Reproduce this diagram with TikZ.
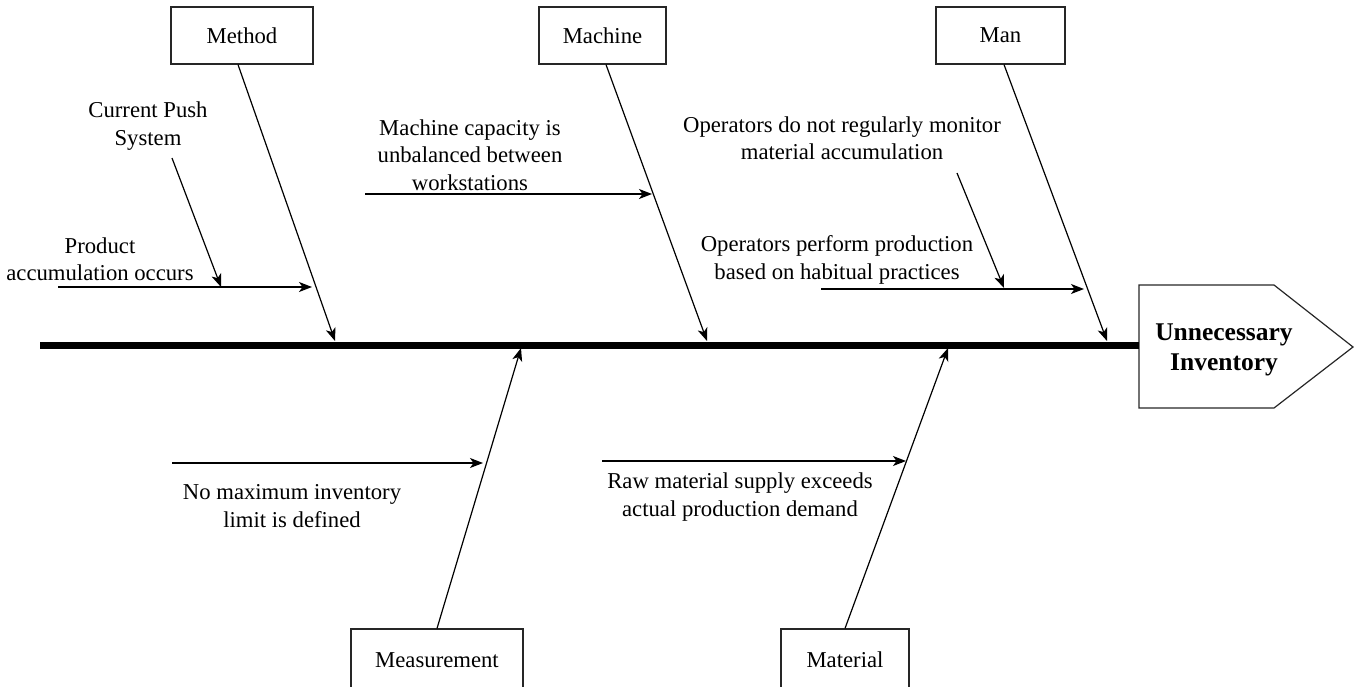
\documentclass[tikz,border=0pt]{standalone}
\usepackage{fontspec}
\setmainfont{Liberation Serif}
\usetikzlibrary{arrows.meta,calc}

\begin{document}
\begin{tikzpicture}[x=1pt,y=-1pt,
  catbox/.style={draw=black!85,line width=1.2pt,minimum height=57pt,inner sep=0pt,
                 font=\fontsize{22.7}{27.5}\selectfont},
  lbl/.style={align=center,inner sep=0pt,font=\fontsize{22.7}{27.5}\selectfont},
  bone/.style={line width=1.2pt,-{Stealth[length=13pt,width=10pt,inset=3.5pt]}},
  spine/.style={line width=7pt},
  effect/.style={draw=black!85,line width=1.2pt}]

\useasboundingbox (0,0) rectangle (1359,686);
\clip (0,0) rectangle (1359,686);

% category boxes
\node[catbox,minimum width=142pt] (method) at (242,35.5) {Method};
\node[catbox,minimum width=127pt] (machine) at (602.5,35.5) {Machine};
\node[catbox,minimum width=129pt] (man) at (1000.5,35.5) {Man};
\node[catbox,minimum width=172pt,minimum height=62pt] (measure) at (437,660) {Measurement};
\node[catbox,minimum width=128pt,minimum height=62pt] (material) at (845,660) {Material};

% effect head
\coordinate (hA) at (1139,285);
\coordinate (hB) at (1274,285);
\coordinate (hC) at (1353,347);
\coordinate (hD) at (1274,408);
\coordinate (hE) at (1139,408);
\draw[effect] (hA) -- (hB) -- (hC) -- (hD) -- (hE) -- cycle;
\node[align=center,inner sep=0pt,font=\fontsize{25.5}{29.5}\selectfont\bfseries] (effect) at (1224,350)
  {Unnecessary\\Inventory};

% spine
\coordinate (tail) at (40,345);
\coordinate (head) at (1139,345);
\draw[spine] (tail) -- (head);

% main bones
\coordinate (tMethod) at (335,341);
\coordinate (tMachine) at (707,341);
\coordinate (tMan) at (1107,341);
\coordinate (tMeasure) at (521,348);
\coordinate (tMaterial) at (948,348);
\draw[bone] ([xshift=-4pt]method.south) -- (tMethod);
\draw[bone] ([xshift=3.5pt]machine.south) -- (tMachine);
\draw[bone] ([xshift=3.5pt]man.south) -- (tMan);
\draw[bone] (measure.north) -- (tMeasure);
\draw[bone] (material.north) -- (tMaterial);

% cause labels
\node[lbl] (pushsys) at (148,126) {Current Push\\System};
\node[lbl] (accum) at (100,259) {Product\\accumulation occurs};
\node[lbl] (capacity) at (470,155) {Machine capacity is\\unbalanced between\\workstations};
\node[lbl] (monitor) at (842,138) {Operators do not regularly monitor\\material accumulation};
\node[lbl] (habit) at (837,260) {Operators perform production\\based on habitual practices};
\node[lbl] (maxinv) at (292,506) {No maximum inventory\\limit is defined};
\node[lbl] (supply) at (740,497) {Raw material supply exceeds\\actual production demand};

% Method causes
\coordinate (a1s) at (58,287);
\coordinate (a1e) at (312,287);
\coordinate (a2s) at (172,158);
\coordinate (a2e) at (221,287);
\draw[bone] (a1s) -- (a1e);
\draw[bone] (a2s) -- (a2e);

% Machine cause
\coordinate (b1s) at (365,194);
\coordinate (b1e) at (652,194);
\draw[bone] (b1s) -- (b1e);

% Man causes
\coordinate (c1s) at (821,289);
\coordinate (c1e) at (1084,289);
\coordinate (c2s) at (957,173);
\coordinate (c2e) at (1004,288);
\draw[bone] (c1s) -- (c1e);
\draw[bone] (c2s) -- (c2e);

% Measurement cause
\coordinate (d1s) at (172,463);
\coordinate (d1e) at (483,463);
\draw[bone] (d1s) -- (d1e);

% Material cause
\coordinate (e1s) at (602,461);
\coordinate (e1e) at (906,461);
\draw[bone] (e1s) -- (e1e);

\end{tikzpicture}
\end{document}
